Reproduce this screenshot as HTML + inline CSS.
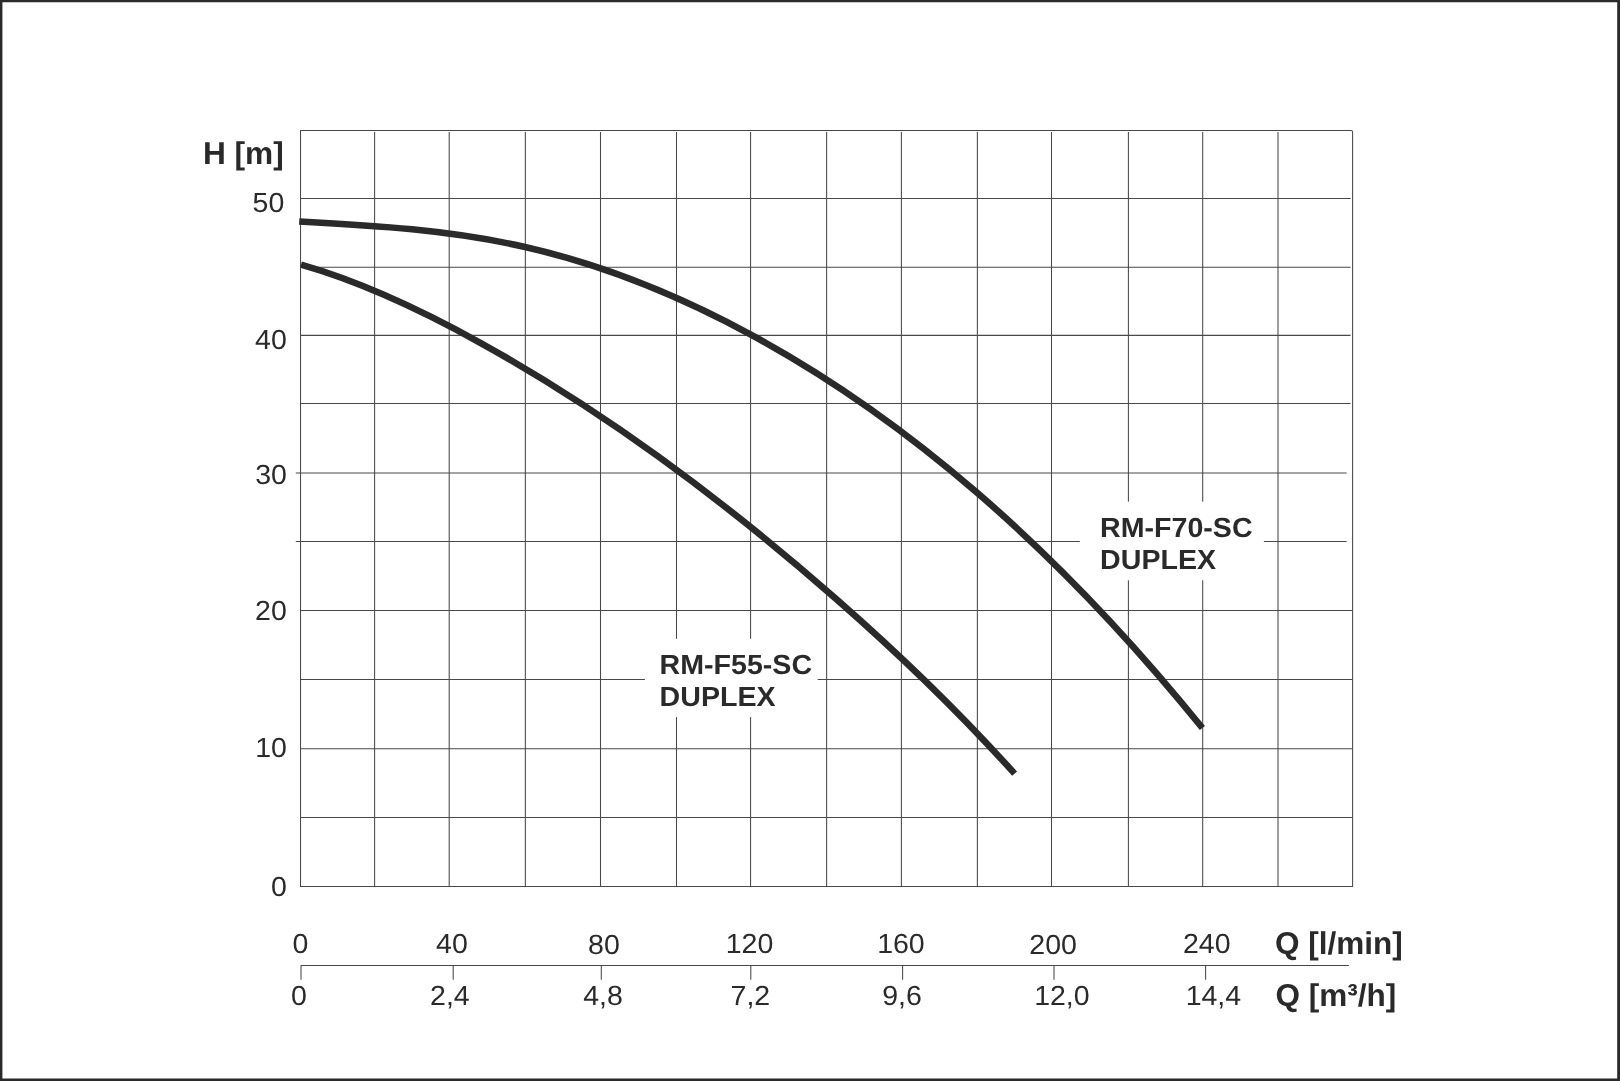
<!DOCTYPE html>
<html><head><meta charset="utf-8"><title>Pump curves</title>
<style>html,body{margin:0;padding:0;background:#fff}body{width:1620px;height:1081px;overflow:hidden}svg{display:block;will-change:transform;filter:grayscale(1)}text{font-family:"Liberation Sans",sans-serif;fill:#2a2a2a;text-rendering:geometricPrecision}.b{font-weight:bold}</style></head><body>
<svg width="1620" height="1081" viewBox="0 0 1620 1081">
<rect x="0" y="0" width="1620" height="1081" fill="#fff"/>
<path fill="#2a2a2a" fill-rule="evenodd" d="M0 0H1620V1081H0Z M2.40 2.20H1617.20V1078.40H2.40Z"/>
<path d="M300.52 198.58H1350.60 M300.52 267.32H1350.60 M300.52 335.35H1350.60 M300.52 403.43H1350.60 M295.80 472.90H1346.60 M295.80 541.40H1346.60 M300.52 610.42H1352.60 M300.52 679.43H1352.60 M300.52 748.65H1352.60 M300.52 817.42H1352.60 M374.60 132.02V886.82 M449.20 132.02V886.82 M525.35 132.02V886.82 M600.50 132.02V886.82 M676.50 132.02V886.82 M750.57 132.02V886.82 M826.62 132.02V886.82 M901.40 132.02V886.82 M977.36 132.02V886.82 M1051.50 132.02V886.82 M1128.40 132.02V886.82 M1202.70 132.02V886.82 M1278.00 132.02V886.82" stroke="#484848" stroke-width="1.05" fill="none"/>
<path d="M300.52 130.42V886.42H1352.60V132.02Q1352.60 130.42 1351.00 130.42Z" stroke="#484848" stroke-width="1.05" fill="none" stroke-linejoin="miter"/>
<rect x="1079.8" y="501.7" width="184.1" height="78.6" fill="#fff"/>
<rect x="644.9" y="638.8" width="172.8" height="78.3" fill="#fff"/>
<path d="M299.20 221.47 C374.47 225.48 449.73 229.91 525.00 246.98 C600.27 264.04 675.53 293.74 750.80 334.57 C826.07 375.40 901.33 427.36 976.60 492.24 C1051.87 557.12 1127.13 634.92 1202.40 728.04" stroke="#2a2a2a" stroke-width="6.60" fill="none" stroke-linecap="butt"/>
<path d="M301.00 264.67 C360.47 281.53 419.93 309.35 479.40 342.28 C538.87 375.21 598.33 413.25 657.80 456.15 C717.27 499.05 776.73 546.81 836.20 598.90 C895.67 650.98 955.13 707.40 1014.60 773.61" stroke="#2a2a2a" stroke-width="6.60" fill="none" stroke-linecap="butt"/>
<path d="M300.60 965.47H1348.9 M301.00 965.47V979.8 M453.20 965.47V979.8 M601.30 965.47V979.8 M750.80 965.47V979.8 M902.60 965.47V979.8 M1054.00 965.47V979.8 M1205.60 965.47V979.8" stroke="#484848" stroke-width="1.05" fill="none"/>
<text transform="translate(252.56 212.20) scale(1.0300 1)" font-size="27.70">50</text>
<text transform="translate(255.05 348.80) scale(1.0300 1)" font-size="27.70">40</text>
<text transform="translate(255.21 484.00) scale(1.0300 1)" font-size="27.70">30</text>
<text transform="translate(255.07 620.30) scale(1.0300 1)" font-size="27.70">20</text>
<text transform="translate(255.23 757.40) scale(1.0300 1)" font-size="27.70">10</text>
<text transform="translate(271.09 896.30) scale(1.0300 1)" font-size="27.70">0</text>
<text transform="translate(292.39 952.80) scale(1.0300 1)" font-size="27.70">0</text>
<text transform="translate(436.05 952.90) scale(1.0300 1)" font-size="27.70">40</text>
<text transform="translate(588.06 953.70) scale(1.0300 1)" font-size="27.70">80</text>
<text transform="translate(725.73 952.90) scale(1.0300 1)" font-size="27.70">120</text>
<text transform="translate(877.13 953.00) scale(1.0300 1)" font-size="27.70">160</text>
<text transform="translate(1029.27 953.70) scale(1.0300 1)" font-size="27.70">200</text>
<text transform="translate(1182.97 952.80) scale(1.0300 1)" font-size="27.70">240</text>
<text transform="translate(291.09 1005.30) scale(1.0300 1)" font-size="27.70">0</text>
<text transform="translate(430.07 1005.30) scale(1.0300 1)" font-size="27.70">2,4</text>
<text transform="translate(583.15 1005.30) scale(1.0300 1)" font-size="27.70">4,8</text>
<text transform="translate(730.54 1005.30) scale(1.0300 1)" font-size="27.70">7,2</text>
<text transform="translate(882.16 1005.30) scale(1.0300 1)" font-size="27.70">9,6</text>
<text transform="translate(1034.13 1005.30) scale(1.0300 1)" font-size="27.70">12,0</text>
<text transform="translate(1185.63 1005.30) scale(1.0300 1)" font-size="27.70">14,4</text>
<text class="b" transform="translate(202.88 164.00) scale(1.0050 1)" font-size="31.50">H [m]</text>
<text class="b" x="1275.01" y="953.70" font-size="31.50">Q [l/min]</text>
<text class="b" x="1275.61" y="1006.00" font-size="31.50">Q [m³/h]</text>
<text class="b" transform="translate(1100.09 536.70) scale(1.0325 1)" font-size="27.70">RM-F70-SC</text>
<text class="b" transform="translate(1100.09 568.90) scale(1.0325 1)" font-size="27.70">DUPLEX</text>
<text class="b" transform="translate(659.59 674.00) scale(1.0325 1)" font-size="27.70">RM-F55-SC</text>
<text class="b" transform="translate(659.59 706.10) scale(1.0325 1)" font-size="27.70">DUPLEX</text>
</svg></body></html>
